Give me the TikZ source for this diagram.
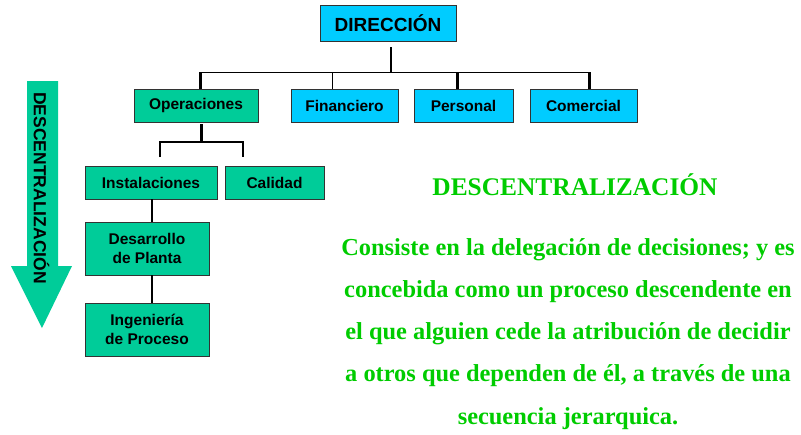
\documentclass[tikz,border=0pt]{standalone}
\usepackage{fontspec}
\setmainfont{Liberation Serif}
\setsansfont{Liberation Sans}
\usetikzlibrary{shadows}

\definecolor{opsgreen}{RGB}{0,204,153}
\definecolor{deptblue}{RGB}{0,204,255}
\definecolor{textgreen}{RGB}{0,204,0}

\tikzset{
  unitbox/.style={draw=black!80, line width=0.8pt, inner sep=0pt,
    drop shadow={shadow xshift=1.2pt, shadow yshift=-1.2pt, fill=black!35, opacity=1},
    font={\sffamily\bfseries\fontsize{15.5}{19}\selectfont}, align=center},
  greenbox/.style={unitbox, fill=opsgreen},
  bluebox/.style={unitbox, fill=deptblue},
}

\begin{document}
\begin{tikzpicture}[x=1pt, y=-1pt]
    \useasboundingbox (0,0) rectangle (801,434);

    % top level
    \node[bluebox, minimum width=136pt, minimum height=36pt,
          font={\sffamily\bfseries\fontsize{19}{22}\selectfont}] (dir) at (388,23) {DIRECCIÓN};

    % departments
    \node[greenbox, minimum width=124pt, minimum height=33pt] (ops) at (196,105.5) {Operaciones};
    \node[bluebox, minimum width=107pt, minimum height=33pt] (fin) at (344.5,105.5) {Financiero};
    \node[bluebox, minimum width=99pt, minimum height=33pt] (per) at (463.5,105.5) {Personal};
    \node[bluebox, minimum width=107pt, minimum height=33pt] (com) at (583.5,105.5) {Comercial};

    % under operaciones
    \node[greenbox, minimum width=132pt, minimum height=33pt] (ins) at (151,182.5) {Instalaciones};
    \node[greenbox, minimum width=99pt, minimum height=33pt] (cal) at (274.5,182.5) {Calidad};
    \node[greenbox, minimum width=124pt, minimum height=53pt] (des) at (147,248.5) {Desarrollo\\de Planta};
    \node[greenbox, minimum width=124pt, minimum height=53pt] (ing) at (147,329.5) {Ingeniería\\de Proceso};

    % bus lines
    \coordinate (busL) at (200,72);
    \coordinate (busR) at (589,72);
    \coordinate (finT) at (332,72);
    \coordinate (perT) at (457,72);
    \draw[line width=1.5pt] ([xshift=3pt,yshift=-6pt]dir.south) -- ([xshift=3pt]dir.south |- busL);
    \draw[line width=1pt] (busL) -- (busR);
    \draw[line width=3pt] (busL) -- (busL |- ops.north);
    \draw[line width=1pt] (finT) -- (finT |- fin.north);
    \draw[line width=3pt] (perT) -- (perT |- per.north);
    \draw[line width=3pt] (busR) -- (busR |- com.north);

    \coordinate (opsB) at (201,142);
    \coordinate (insT) at (160,157);
    \coordinate (calT) at (243,157);
    \draw[line width=3pt] ([yshift=-2pt]ops.south -| opsB) -- (opsB);
    \draw[line width=2.5pt] (insT) |- (opsB) -| (calT);
    \draw[line width=1.5pt] ([xshift=1pt]ins.south) -- ([xshift=1pt]ins.south |- des.north);
    \draw[line width=1.5pt] ([xshift=5pt]des.south) -- ([xshift=5pt]des.south |- ing.north);

    % arrow
    \fill[opsgreen] (27,81) -- (58,81) -- (58,266) -- (72,266) -- (42,328) -- (11,266) -- (27,266) -- cycle;
    \node[rotate=-90, anchor=base, inner sep=0pt,
          font={\sffamily\bfseries\fontsize{17.5}{20}\selectfont}] (arrowtxt) at (34,188) {DESCENTRALIZACIÓN};

    % text
    \node[text=textgreen, anchor=base, inner sep=0pt,
          font={\bfseries\fontsize{25.4}{28}\selectfont}] (title) at (575,195) {DESCENTRALIZACIÓN};
    \node[text=textgreen, anchor=base, inner sep=0pt, align=center,
          font={\bfseries\fontsize{24.4}{42.2}\selectfont}] (para) at (568,424)
          {Consiste en la delegación de decisiones; y es\\
           concebida como un proceso descendente en\\
           el que alguien cede la atribución de decidir\\
           a otros que dependen de él, a través de una\\
           secuencia jerarquica.};
\end{tikzpicture}
\end{document}
